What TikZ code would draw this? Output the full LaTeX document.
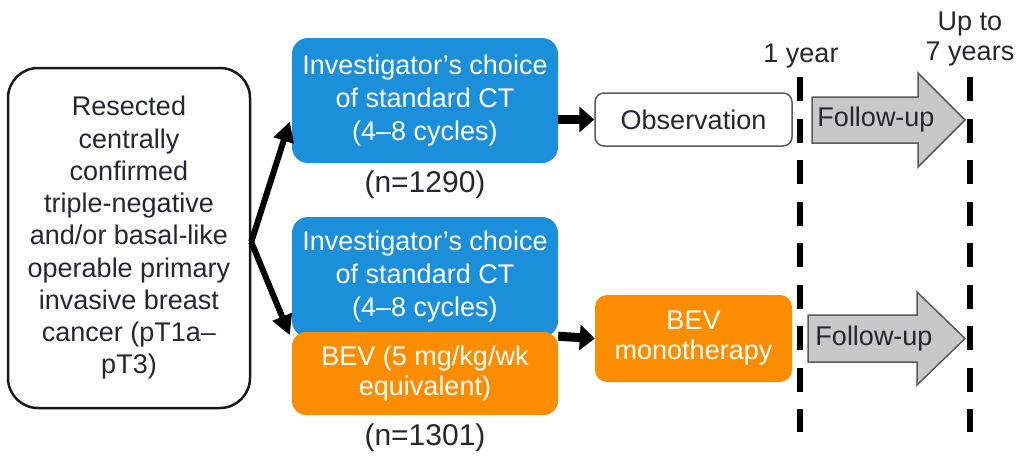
\documentclass[tikz,border=0pt]{standalone}
\usepackage{fontspec}
\setmainfont{Liberation Sans}
\usetikzlibrary{arrows.meta,calc}
\definecolor{txt}{RGB}{38,38,48}
\definecolor{cblue}{RGB}{27,143,217}
\definecolor{corange}{RGB}{252,141,0}
\definecolor{cgray}{RGB}{200,200,200}
\definecolor{cedge}{RGB}{90,90,90}
\begin{document}
\begin{tikzpicture}[x=1pt,y=-1pt,
  every node/.style={font=\fontsize{27}{32.25}\selectfont, text=txt, inner sep=0pt, align=center},
  startbox/.style={draw=black!90, line width=2.5pt, rounded corners=30pt, minimum width=242pt, minimum height=340pt},
  bluebox/.style={fill=cblue, text=white, rounded corners=16pt, minimum width=266pt, font=\fontsize{27}{33}\selectfont},
  orangebox/.style={fill=corange, text=white, rounded corners=14pt, font=\fontsize{27}{30}\selectfont},
  obsbox/.style={draw=cedge, line width=1.5pt, rounded corners=9pt, fill=white},
  bigarrow/.style={-{Triangle[length=20pt,width=20pt]}, line width=6pt, black},
  smallarrow/.style={-{Triangle[length=15pt,width=25pt]}, line width=9pt, black},
  timeline/.style={line width=6pt, dash pattern=on 24pt off 17.5pt, black},
  followarrow/.style={fill=cgray, draw=cedge, line width=1.5pt, line join=miter},
  ncount/.style={font=\fontsize{30}{36}\selectfont},
]
\useasboundingbox (0,0) rectangle (1016,458);

% start box
\node[startbox] (start) at (129,238) {Resected\\centrally\\confirmed\\triple-negative\\and/or basal-like\\operable primary\\invasive breast\\cancer (pT1a–\\pT3)};

% arm 1
\node[bluebox, minimum height=125pt] (ct1) at (425,100.5) {Investigator’s choice\\of standard CT\\(4–8 cycles)};
\node[ncount] (n1) at (425,185) {(n=1290)};

% arm 2
\node[bluebox, minimum height=120pt] (ct2) at (425,277) {Investigator’s choice\\of standard CT\\(4–8 cycles)};
\node[orangebox, minimum width=266pt, minimum height=83pt] (bev) at (425,373.5) {BEV (5 mg/kg/wk\\equivalent)};
\node[ncount] (n2) at (425,438) {(n=1301)};

% next phase
\node[obsbox, minimum width=197pt, minimum height=53pt] (obs) at (693.5,119.5) {Observation};
\node[orangebox, minimum width=197pt, minimum height=87pt, rounded corners=12pt] (mono) at (693.5,338.5) {BEV\\monotherapy};

% timelines
\coordinate (t1top) at (800,77);
\coordinate (t1bot) at (800,432);
\coordinate (t2top) at (970,77);
\coordinate (t2bot) at (970,432);
\draw[timeline] (t1top) -- (t1bot);
\draw[timeline] (t2top) -- (t2bot);
\node[anchor=base] (y1) at (801,62) {1 year};
\node[anchor=base] (up) at (970,30) {Up to};
\node[anchor=base] (y7) at (970,60) {7 years};

% follow-up arrows
\draw[followarrow] (812,97) -- (918,97) -- (918,73) -- (965,120) -- (918,167) -- (918,143) -- (812,143) -- cycle;
\node (fu1) at (876,120) {Follow-up};
\draw[followarrow] (808,315) -- (917,315) -- (917,292) -- (965,338.5) -- (917,385) -- (917,362) -- (808,362) -- cycle;
\node (fu2) at (874,338.5) {Follow-up};

% connectors
\draw[bigarrow] ([yshift=-4pt]start.east) -- ([xshift=-2pt,yshift=-21pt]ct1.west);
\draw[bigarrow] ([yshift=-4pt]start.east) -- ([xshift=-2pt,yshift=2pt]ct2.south west);
\draw[smallarrow] (ct1.east |- obs.west) -- (obs.west);
\draw[smallarrow] ([yshift=1pt]ct2.south east) -- (mono.west);
\end{tikzpicture}
\end{document}
